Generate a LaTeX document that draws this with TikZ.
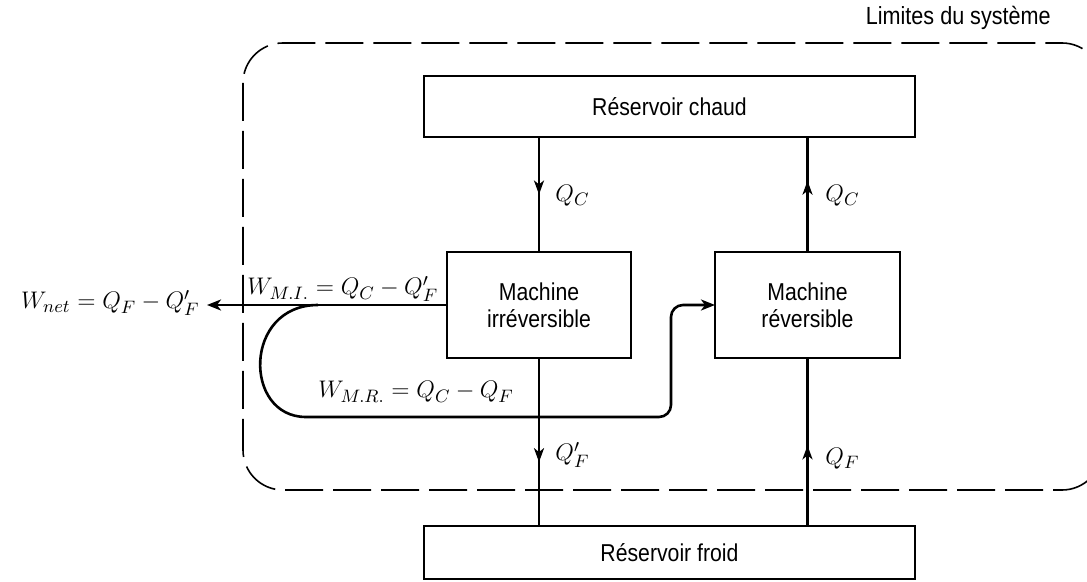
\documentclass[tikz,border=0pt]{standalone}
\usepackage[no-math]{fontspec}
\setsansfont{Liberation Sans}[FakeStretch=0.87]
\usetikzlibrary{arrows.meta,decorations.markings}
\begin{document}
\begin{tikzpicture}[x=0.5pt,y=-0.5pt,
  box/.style={draw,line width=0.9pt,inner sep=0pt,outer sep=0pt,font=\sffamily\fontsize{12.2}{13.5}\selectfont,align=center},
  flow/.style={line width=1.3pt},
  lbl/.style={inner sep=0pt,font=\fontsize{13.2}{15}\selectfont},
  arrowat/.style={postaction=decorate,decoration={markings,mark=at position #1 with {\arrow{Stealth[length=7pt,width=5pt,inset=2pt]}}}},
  bound/.style={dash pattern=on 19pt off 5pt,line width=0.8pt}
]
\useasboundingbox (0,0) rectangle (1087,582);
\begin{scope}
  \clip (0,0) rectangle (1087,582);
  \draw[bound,rounded corners=20pt] (243,43) rectangle (1102,490);
\end{scope}

\node[box,minimum width=245.5pt,minimum height=30.5pt] (hot) at (669.5,106.5) {Réservoir chaud};
\node[box,minimum width=245.5pt,minimum height=26.5pt] (cold) at (669.5,552.5) {Réservoir froid};
\node[box,minimum width=92pt,minimum height=53pt] (mi) at (539,305) {Machine\\irréversible};
\node[box,minimum width=92.5pt,minimum height=53pt] (mr) at (807.5,305) {Machine\\réversible};

\draw[flow,arrowat=0.5] (hot.south -| mi.north) -- (mi.north);
\draw[flow,arrowat=0.62] (mr.north) -- (hot.south -| mr.north);
\draw[flow,arrowat=0.62] (mi.south) -- (cold.north -| mi.south);
\draw[flow,arrowat=0.48] (cold.north -| mr.south) -- (mr.south);

\node[lbl,anchor=west] (qc1) at (555,196) {$Q_C$};
\node[lbl,anchor=west] (qc2) at (825,196) {$Q_C$};
\node[lbl,anchor=west] (qf1) at (555,455) {$Q'_F$};
\node[lbl,anchor=west] (qf2) at (825,459) {$Q_F$};

\node[lbl,anchor=base east] (wnet) at (200,309) {$W_{net} = Q_F - Q'_F$};
\coordinate (wtip) at (207,305);
\draw[flow,-{Stealth[length=7pt,width=5.5pt,inset=2pt]}] (mi.west) -- (wtip);

\coordinate (ls) at (318,305);
\coordinate (lb) at (318,417);
\coordinate (lx) at (671,417);
\draw[flow,rounded corners=6pt,-{Stealth[length=7pt,width=5.5pt,inset=2pt]}] (ls) .. controls (243,305) and (243,417) .. (lb) -- (lx) -- (lx |- mr.west) -- (mr.west);

\node[lbl,anchor=base west] (wmi) at (247,295) {$W_{M.I.} = Q_C - Q'_F$};
\node[lbl,anchor=base west] (wmr) at (318,398) {$W_{M.R.} = Q_C - Q_F$};

\node[font=\sffamily\fontsize{12.4}{14}\selectfont,anchor=base east,inner sep=0pt] (lim) at (1051,25) {Limites du système};
\end{tikzpicture}
\end{document}
